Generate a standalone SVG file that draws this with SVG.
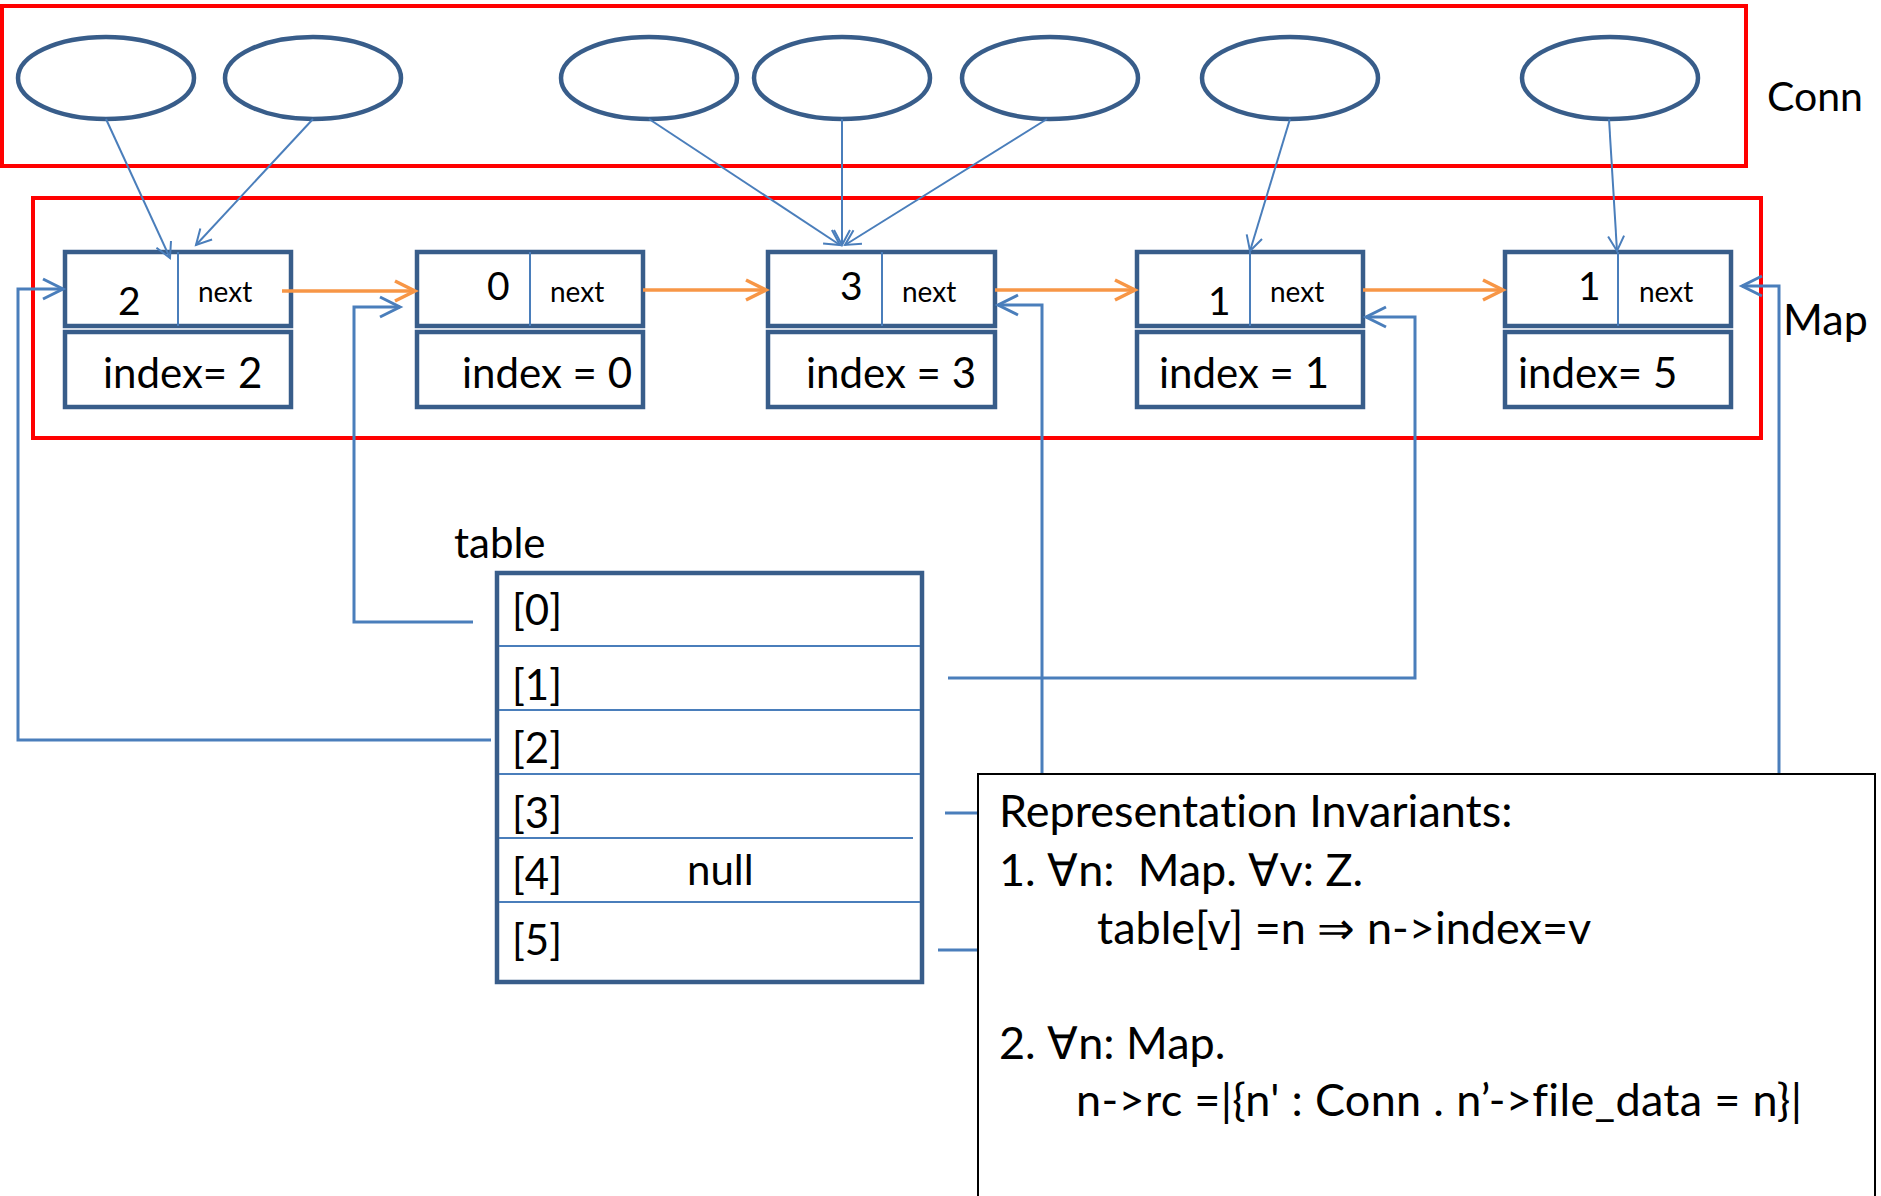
<svg xmlns="http://www.w3.org/2000/svg" width="1881" height="1196" viewBox="0 0 1881 1196">
<style>
.red{fill:none;stroke:#FF0000;stroke-width:4}
.ell{fill:none;stroke:#385D8A;stroke-width:4.5}
.box{fill:#fff;stroke:#385D8A;stroke-width:4.5}
.dv{stroke:#4A7EBB;stroke-width:2}
.conn{stroke:#4A7EBB;stroke-width:2;fill:none}
.link{stroke:#4A7EBB;stroke-width:3;fill:none}
.nx{stroke:#F79646;stroke-width:3.5;fill:none}
text{font-family:Lato,"Open Sans",sans-serif;fill:#000;font-variant-ligatures:none}
.dg{font-size:39px}
.nt{font-size:28px}
.ix{font-size:42px}
.lb{font-size:42px}
.inv{font-size:45px;white-space:pre}
</style>
<defs>
<marker id="ao" markerUnits="userSpaceOnUse" markerWidth="22" markerHeight="22" refX="20" refY="10" orient="auto" overflow="visible"><path d="M0,0 L20,10 L0,20" fill="none" stroke="#F79646" stroke-width="3.5"/></marker>
<marker id="ab" markerUnits="userSpaceOnUse" markerWidth="22" markerHeight="22" refX="20" refY="10" orient="auto" overflow="visible"><path d="M0,0 L20,10 L0,20" fill="none" stroke="#4A7EBB" stroke-width="3"/></marker>
<marker id="at" markerUnits="userSpaceOnUse" markerWidth="18" markerHeight="18" refX="15" refY="8" orient="auto" overflow="visible"><path d="M0,0 L15,8 L0,16" fill="none" stroke="#4A7EBB" stroke-width="2"/></marker>
</defs>
<rect width="1881" height="1196" fill="#fff"/>

<g id="conn-group">
<rect class="red" x="2" y="6" width="1744" height="160"/>
<text x="1767" y="111" class="lb" style="font-size:41px">Conn</text>
<g id="c1"><ellipse class="ell" cx="106" cy="78" rx="88" ry="41"/></g>
<g id="c2"><ellipse class="ell" cx="313" cy="78" rx="88" ry="41"/></g>
<g id="c3"><ellipse class="ell" cx="649" cy="78" rx="88" ry="41"/></g>
<g id="c4"><ellipse class="ell" cx="842" cy="78" rx="88" ry="41"/></g>
<g id="c5"><ellipse class="ell" cx="1050" cy="78" rx="88" ry="41"/></g>
<g id="c6"><ellipse class="ell" cx="1290" cy="78" rx="88" ry="41"/></g>
<g id="c7"><ellipse class="ell" cx="1610" cy="78" rx="88" ry="41"/></g>
</g>

<g id="map">
<rect class="red" x="33" y="198" width="1728" height="240"/>
<text x="1783" y="335" class="lb" style="font-size:43px">Map</text>
</g>

<g id="n1">
<rect class="box" x="65" y="252" width="226" height="74"/>
<line class="dv" x1="178" y1="252" x2="178" y2="326"/>
<text x="118" y="315" class="dg">2</text>
<text x="198" y="302" class="nt">next</text>
<rect class="box" x="65" y="332" width="226" height="75"/>
<text x="103" y="388" class="ix">index= 2</text>
</g>
<g id="n2">
<rect class="box" x="417" y="252" width="226" height="74"/>
<line class="dv" x1="530" y1="252" x2="530" y2="326"/>
<text x="487" y="300" class="dg">0</text>
<text x="550" y="302" class="nt">next</text>
<rect class="box" x="417" y="332" width="226" height="75"/>
<text x="462" y="388" class="ix">index = 0</text>
</g>
<g id="n3">
<rect class="box" x="768" y="252" width="227" height="74"/>
<line class="dv" x1="882" y1="252" x2="882" y2="326"/>
<text x="840" y="300" class="dg">3</text>
<text x="902" y="302" class="nt">next</text>
<rect class="box" x="768" y="332" width="227" height="75"/>
<text x="806" y="388" class="ix">index = 3</text>
</g>
<g id="n4">
<rect class="box" x="1137" y="252" width="226" height="74"/>
<line class="dv" x1="1250" y1="252" x2="1250" y2="326"/>
<text x="1208" y="315" class="dg">1</text>
<text x="1270" y="302" class="nt">next</text>
<rect class="box" x="1137" y="332" width="226" height="75"/>
<text x="1159" y="388" class="ix">index = 1</text>
</g>
<g id="n5">
<rect class="box" x="1505" y="252" width="226" height="74"/>
<line class="dv" x1="1618" y1="252" x2="1618" y2="326"/>
<text x="1578" y="300" class="dg">1</text>
<text x="1639" y="302" class="nt">next</text>
<rect class="box" x="1505" y="332" width="226" height="75"/>
<text x="1518" y="388" class="ix">index= 5</text>
</g>

<g id="connectors">
<line class="conn" x1="106" y1="119" x2="170" y2="258" marker-end="url(#at)"/>
<line class="conn" x1="313" y1="119" x2="196" y2="245" marker-end="url(#at)"/>
<line class="conn" x1="649" y1="119" x2="840" y2="245" marker-end="url(#at)"/>
<line class="conn" x1="842" y1="119" x2="842" y2="245" marker-end="url(#at)"/>
<line class="conn" x1="1047" y1="119" x2="845" y2="245" marker-end="url(#at)"/>
<line class="conn" x1="1290" y1="119" x2="1250" y2="251" marker-end="url(#at)"/>
<line class="conn" x1="1609" y1="119" x2="1617" y2="251" marker-end="url(#at)"/>
<line class="nx" x1="282" y1="291" x2="415" y2="291" marker-end="url(#ao)"/>
<line class="nx" x1="643" y1="290" x2="766" y2="290" marker-end="url(#ao)"/>
<line class="nx" x1="995" y1="290" x2="1135" y2="290" marker-end="url(#ao)"/>
<line class="nx" x1="1363" y1="290" x2="1503" y2="290" marker-end="url(#ao)"/>
<path class="link" d="M473,622 H354 V307 H400" marker-end="url(#ab)"/>
<path class="link" d="M948,678 H1415 V317 H1366" marker-end="url(#ab)"/>
<path class="link" d="M491,740 H18 V289 H63" marker-end="url(#ab)"/>
<path class="link" d="M945,813 H1042 V305 H998" marker-end="url(#ab)"/>
<path class="link" d="M938,950 H1779 V286 H1742" marker-end="url(#ab)"/>
</g>

<g id="table">
<text x="454" y="558" class="lb">table</text>
<rect class="box" x="497" y="573" width="425" height="409"/>
<line class="dv" x1="499" y1="646" x2="920" y2="646"/>
<line class="dv" x1="499" y1="710" x2="920" y2="710"/>
<line class="dv" x1="499" y1="774" x2="920" y2="774"/>
<line class="dv" x1="499" y1="838" x2="913" y2="838"/>
<line class="dv" x1="499" y1="902" x2="920" y2="902"/>
<text x="512" y="625" class="lb">[0]</text>
<text x="512" y="700" class="lb">[1]</text>
<text x="512" y="763" class="lb">[2]</text>
<text x="512" y="828" class="lb">[3]</text>
<text x="512" y="889" class="lb">[4]</text>
<text x="687" y="885" class="lb">null</text>
<text x="512" y="955" class="lb">[5]</text>
</g>

<g id="invariants">
<rect x="978" y="774" width="897" height="440" fill="#fff" stroke="#000" stroke-width="2"/>
<text x="999" y="827" class="inv">Representation Invariants:</text>
<text x="999" y="886" class="inv">1. ∀n:  Map. ∀v: Z.</text>
<text x="1097" y="944" class="inv">table[v] =n ⇒ n-&gt;index=v</text>
<text x="999" y="1059" class="inv">2. ∀n: Map.</text>
<text x="1076" y="1116" class="inv" textLength="726">n-&gt;rc =|{n' : Conn . n’-&gt;file_data = n}|</text>
</g>
</svg>
